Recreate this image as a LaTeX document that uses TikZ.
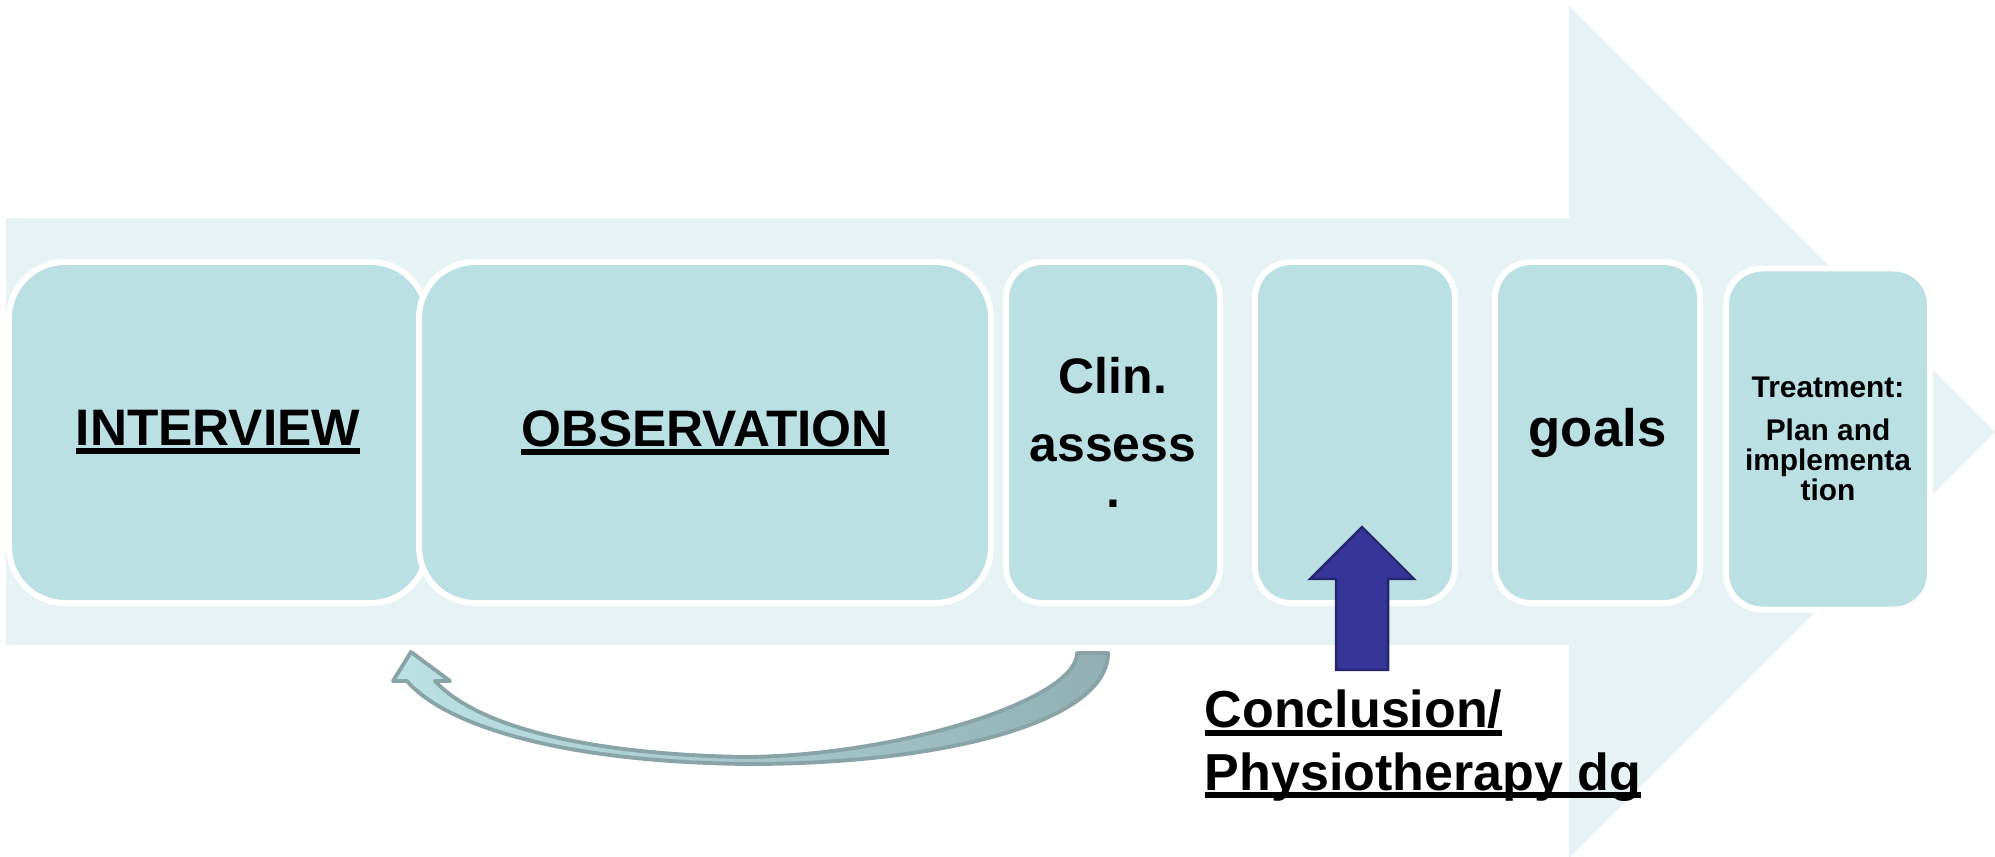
\documentclass[tikz,border=0pt]{standalone}
\usepackage{fontspec}
\setmainfont{Liberation Sans}
\usepackage{tikz}
\definecolor{bandcolor}{RGB}{230,242,244}
\definecolor{stagecolor}{RGB}{187,224,227}
\definecolor{loopline}{RGB}{137,164,166}
\definecolor{loopleft}{RGB}{188,225,228}
\definecolor{loopright}{RGB}{146,176,178}
\definecolor{pointerfill}{RGB}{54,53,152}
\definecolor{pointerline}{RGB}{38,38,110}
\newcommand{\ulword}[1]{\sbox0{#1}\rlap{\vrule width\wd0 height-0.7pt depth2.4pt}\usebox0}
\tikzset{
  band/.style={fill=bandcolor, draw=none},
  stage/.style={draw=white, line width=1.7pt, fill=stagecolor, rounded corners=0.36cm, minimum height=3.41cm, inner sep=0pt, align=center},
  bigstage/.style={stage, rounded corners=0.56cm, font=\fontsize{14.6}{18}\selectfont\bfseries},
  note/.style={font=\fontsize{14.8}{17.9}\selectfont\bfseries, align=left, inner sep=0pt},
  pointer/.style={fill=pointerfill, draw=pointerline, line width=0.7pt, line join=miter},
  backloop/.style={left color=loopleft, right color=loopright, draw=loopline, line width=1.1pt, line join=round},
}
\begin{document}
\begin{tikzpicture}
\useasboundingbox (0,0) rectangle (19.95,8.56);
\fill[band] (0.06,6.38) -- (15.69,6.38) -- (15.69,8.50) -- (19.95,4.24) -- (15.69,-0.02) -- (15.69,2.11) -- (0.06,2.11) -- cycle;
\node[bigstage, minimum width=4.18cm] (interview) at (2.18,4.235) {\ulword{INTERVIEW}};
\node[bigstage, minimum width=5.72cm] (observation) at (7.05,4.235) {\ulword{OBSERVATION}};
\node[stage, minimum width=2.14cm, font=\fontsize{14.2}{19.3}\selectfont\bfseries] (clin) at (11.13,4.235) {Clin.\\assess\\[-6.3pt].};
\node[stage, minimum width=2.00cm] (dg) at (13.55,4.235) {};
\node[stage, minimum width=2.05cm, font=\fontsize{15}{18}\selectfont\bfseries] (goals) at (15.975,4.235) {goals};
\node[stage, minimum width=2.04cm, font=\fontsize{8.5}{8.5}\selectfont\bfseries] (treatment) at (18.28,4.17) {Treatment:\\[3.7pt]Plan and\\implementa\\tion};
\node[note, anchor=base west] (conclusion) at (12.04,0.66) {\ulword{Conclusion/}\\\ulword{Physiotherapy dg}};
\coordinate (dgtip) at (13.62,3.29);
\draw[pointer] (dgtip) -- ++(0.52,-0.52) -- ++(-0.26,0) -- ++(0,-0.91) -- ++(-0.52,0) -- ++(0,0.91) -- ++(-0.26,0) -- cycle;
\draw[backloop] (11.08,2.03) .. controls (11.08,1.36) and (9.50,0.92) .. (7.48,0.92)
  .. controls (5.60,0.94) and (4.45,1.31) .. (4.07,1.75) -- (3.93,1.75) -- (4.11,2.04) -- (4.50,1.75) -- (4.35,1.75)
  .. controls (4.80,1.26) and (6.00,1.01) .. (7.48,0.99)
  .. controls (9.00,1.01) and (10.77,1.56) .. (10.77,2.03) -- cycle;
\end{tikzpicture}
\end{document}
